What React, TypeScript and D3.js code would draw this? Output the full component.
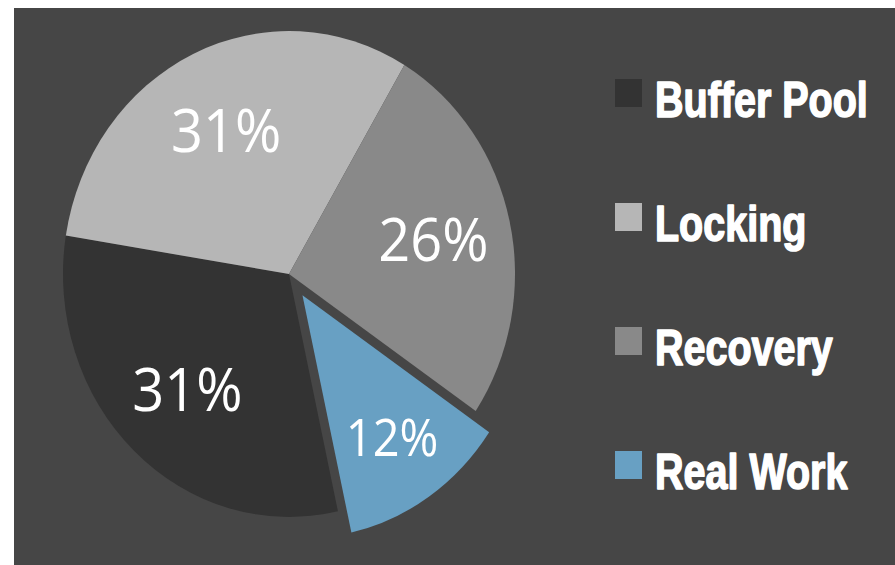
import React from "react";
import * as d3 from "d3";

const categories = ["Buffer Pool", "Locking", "Recovery", "Real Work"];
const values = [31, 31, 26, 12];
const valueLabels = ["31%", "31%", "26%", "12%"];
const colors = ["#333333", "#b6b6b6", "#898989", "#68a0c3"];
const explodedIndex = 3;

const W = 895;
const H = 565;

export default function App() {
  const cx = 289;
  const cy = 274;
  const R = 226;
  const yStretch = 1.075;
  const startDeg = 167.5;
  const pie = d3
    .pie<number>()
    .sort(null)
    .value((d) => d)
    .startAngle((startDeg * Math.PI) / 180)
    .endAngle(((startDeg + 360) * Math.PI) / 180);
  const arcs = pie(values);
  const arc = d3.arc<d3.PieArcDatum<number>>().innerRadius(0).outerRadius(R);
  const labelArc = d3
    .arc<d3.PieArcDatum<number>>()
    .innerRadius(148)
    .outerRadius(148);
  const labelArcSmall = d3
    .arc<d3.PieArcDatum<number>>()
    .innerRadius(160)
    .outerRadius(160);
  const explode = 24;

  const legendY = d3
    .scaleLinear()
    .domain([0, categories.length - 1])
    .range([117, 489]);

  return (
    <svg
      width={W}
      height={H}
      style={{ position: "absolute", left: 0, top: 0, background: "#ffffff" }}
    >
      <rect x={14} y={8} width={W - 14} height={H - 8} fill="#464646" />
      <g transform={`translate(${cx},${cy}) scale(1,${yStretch})`}>
        {arcs.map((a, i) => {
          const mid = (a.startAngle + a.endAngle) / 2;
          const off = i === explodedIndex ? explode : 0;
          const dx = Math.sin(mid) * off;
          const dy = -Math.cos(mid) * off;
          const [lx, ly] =
            i === explodedIndex ? labelArcSmall.centroid(a) : labelArc.centroid(a);
          return (
            <g key={categories[i]} transform={`translate(${dx},${dy})`}>
              <path d={arc(a) || ""} fill={colors[i]} />
              <text
                x={lx}
                y={ly}
                dy="0.36em"
                textAnchor="middle"
                fill="#ffffff"
                fontFamily="'Open Sans', 'Noto Sans', sans-serif"
                fontSize={i === explodedIndex ? 47 : 56}
              >
                {valueLabels[i]}
              </text>
            </g>
          );
        })}
      </g>
      {categories.map((c, i) => {
        const by = legendY(i);
        return (
          <g key={c}>
            <rect x={615} y={by - 38} width={27} height={28} fill={colors[i]} />
            <text
              transform={`translate(655,${by}) scale(0.79,1)`}
              fill="#ffffff"
              stroke="#ffffff"
              strokeWidth={1.6}
              strokeLinejoin="round"
              fontFamily="'Liberation Sans', Arial, sans-serif"
              fontWeight="bold"
              fontSize={50}
            >
              {c}
            </text>
          </g>
        );
      })}
    </svg>
  );
}
